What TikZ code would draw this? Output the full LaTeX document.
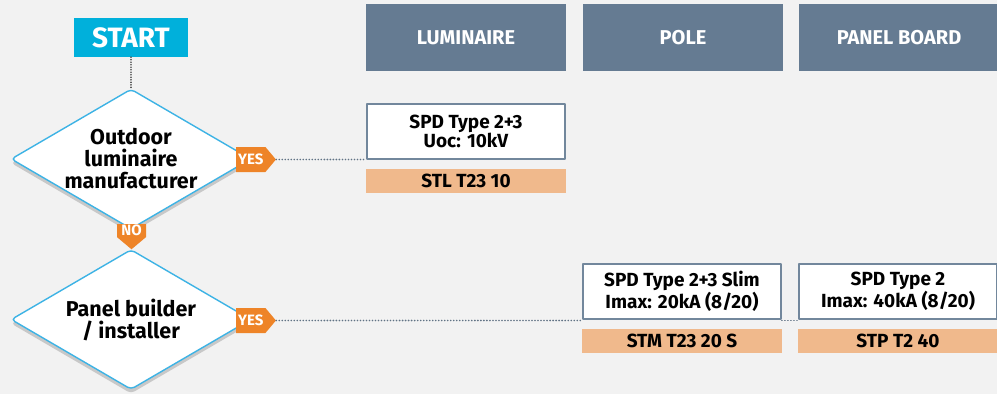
\documentclass[tikz,border=0pt]{standalone}
\usepackage{fontspec}
\setmainfont{Fira Sans}
\usetikzlibrary{shapes.geometric,shapes.symbols,positioning}
\definecolor{bgray}{HTML}{F2F2F2}
\definecolor{startblue}{HTML}{00B0DB}
\definecolor{headblue}{HTML}{657B92}
\definecolor{qblue}{HTML}{3DB3E5}
\definecolor{boxline}{HTML}{72879C}
\definecolor{tagorange}{HTML}{EE8428}
\definecolor{codeorange}{HTML}{F0B98C}
\definecolor{shade}{HTML}{C8C8C8}
\begin{document}
\begin{tikzpicture}[x=1pt, y=-1pt, font=\bfseries, line join=round, line cap=round,
	head/.style={fill=headblue, text=white, minimum width=200pt, minimum height=67pt, inner sep=0pt, font=\fontsize{20}{22}\selectfont\bfseries},
	question/.style={diamond, aspect=1.7, draw=qblue, line width=1.4pt, fill=white, rounded corners=4pt, minimum width=240pt, minimum height=140pt, inner sep=0pt, align=center, font=\fontsize{21.5}{22}\selectfont\bfseries},
	qshade/.style={diamond, fill=shade, rounded corners=4pt, minimum width=240pt, minimum height=140pt, inner sep=0pt},
	spd/.style={draw=boxline, line width=1.8pt, fill=white, minimum width=198pt, minimum height=55pt, inner sep=0pt, align=center, font=\fontsize{19}{18}\selectfont\bfseries},
	code/.style={fill=codeorange, minimum width=200pt, minimum height=24pt, inner sep=0pt, font=\fontsize{19}{20}\selectfont\bfseries},
	tag/.style={signal, fill=tagorange, text=white, inner xsep=2pt, inner ysep=0pt, minimum height=25pt, signal pointer angle=100, font=\fontsize{15}{16}\selectfont\bfseries},
	link/.style={boxline!85!black, line width=1.8pt, dash pattern=on 0.01pt off 3pt}]
	\fill[bgray] (0,0) rectangle (997,394);
	\useasboundingbox (0,0) rectangle (997,394);
	% column heads
	\node[fill=startblue, text=white, minimum width=114pt, minimum height=39pt, inner sep=0pt, font=\fontsize{28}{30}\selectfont\bfseries] (start) at (131,37.5) {START};
	\node[head] (luminaire) at (466,37.5) {LUMINAIRE};
	\node[head] (pole) at (683,37.5) {POLE};
	\node[head] (panel) at (899,37.5) {PANEL BOARD};
	% questions
	\node[qshade] at (131,163) {};
	\node[question] (q1) at (131,159) {Outdoor\\luminaire\\manufacturer};
	\node[qshade] at (131,323.5) {};
	\node[question] (q2) at (131,319.5) {Panel builder\\/ installer};
	\draw[black!70, line width=1.8pt, dash pattern=on 0.01pt off 2.5pt] (start) -- (q1);
	% answers
	\node[tag, signal to=east, anchor=west] (yes1) at (236,159.5) {YES};
	\node[tag, signal to=south, minimum width=29pt, minimum height=20pt, inner ysep=1pt, anchor=north] (no) at (131.5,224) {NO};
	\node[tag, signal to=east, anchor=west] (yes2) at (236,320.5) {YES};
	% products
	\node[spd] (spd1) at (466,131.5) {SPD Type 2+3\\Uoc: 10kV};
	\node[code] (code1) at (466,180.5) {STL T23 10};
	\node[spd] (spd2) at (682,291.5) {SPD Type 2+3 Slim\\Imax: 20kA (8/20)};
	\node[code] (code2) at (682,340.5) {STM T23 20 S};
	\node[spd] (spd3) at (898,291.5) {SPD Type 2\\Imax: 40kA (8/20)};
	\node[code] (code3) at (898,340.5) {STP T2 40};
	\draw[link] (yes1) -- (yes1 -| spd1.west);
	\draw[link] (yes2) -- (yes2 -| spd2.west);
	\draw[link] (yes2 -| spd2.east) -- (yes2 -| spd3.west);
\end{tikzpicture}
\end{document}
